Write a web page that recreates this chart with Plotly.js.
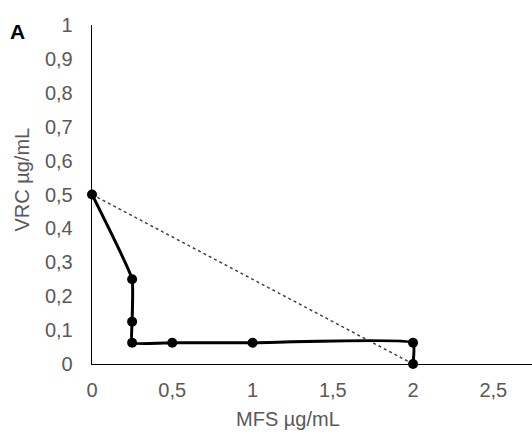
<!DOCTYPE html>
<html>
<head>
<meta charset="utf-8">
<script src="https://cdn.plot.ly/plotly-3.0.1.min.js"></script>
<style>
  html, body { margin: 0; padding: 0; background: #fff; }
  #chart { width: 532px; height: 434px; }
</style>
</head>
<body>
<div id="chart"></div>
<script>
// Isobologram: MFS vs VRC combination concentrations
const mfs = [0, 0.25, 0.25, 0.25, 0.5, 1, 2, 2];
const vrc = [0.5, 0.25, 0.125, 0.0625, 0.0625, 0.0625, 0.0625, 0];

// Line of additivity between the single-drug values
const additiveX = [0, 2];
const additiveY = [0.5, 0];

const xTicks = [0, 0.5, 1, 1.5, 2, 2.5];
const xTickText = ['0', '0,5', '1', '1,5', '2', '2,5'];
const yTicks = [0, 0.1, 0.2, 0.3, 0.4, 0.5, 0.6, 0.7, 0.8, 0.9, 1];
const yTickText = ['0', '0,1', '0,2', '0,3', '0,4', '0,5', '0,6', '0,7', '0,8', '0,9', '1'];

const font = 'Liberation Sans, Arial, sans-serif';
const grey = '#595959';

const traces = [
  {
    x: additiveX, y: additiveY,
    mode: 'lines',
    line: { color: '#444', width: 1.5, dash: 'dot' },
    hoverinfo: 'skip'
  },
  {
    x: mfs, y: vrc,
    mode: 'lines+markers',
    line: { color: '#000', width: 3, shape: 'spline', smoothing: 0.35 },
    marker: { color: '#000', size: 10 },
    cliponaxis: false
  }
];

const layout = {
  width: 532, height: 434,
  margin: { l: 92, r: 0, t: 25, b: 70 },
  paper_bgcolor: '#fff', plot_bgcolor: '#fff',
  showlegend: false,
  font: { family: font, size: 20, color: grey },
  xaxis: {
    range: [0, 2.741],
    tickvals: xTicks, ticktext: xTickText,
    showgrid: false, zeroline: false,
    showline: true, linecolor: '#000', linewidth: 1.3,
    ticks: '', ticklabelstandoff: 8,
    tickfont: { family: font, size: 20, color: grey }
  },
  yaxis: {
    range: [0, 1],
    tickvals: yTicks, ticktext: yTickText,
    showgrid: false, zeroline: false,
    showline: true, linecolor: '#000', linewidth: 1.3,
    ticks: '', ticklabelstandoff: 14,
    tickfont: { family: font, size: 20, color: grey }
  },
  annotations: [
    {
      text: 'MFS µg/mL', xref: 'paper', yref: 'paper',
      x: (288 - 92) / 440, y: -0.125, xanchor: 'center', yanchor: 'top',
      showarrow: false, font: { family: font, size: 20, color: grey }
    },
    {
      text: 'VRC µg/mL', xref: 'paper', yref: 'paper',
      x: -0.16, y: (364 - 180) / 339, textangle: -90,
      xanchor: 'center', yanchor: 'middle',
      showarrow: false, font: { family: font, size: 20, color: grey }
    },
    {
      text: '<b>A</b>', xref: 'paper', yref: 'paper',
      x: -0.19, y: (364 - 31) / 339, xanchor: 'left', yanchor: 'middle',
      showarrow: false, font: { family: font, size: 21, color: '#000' }
    }
  ]
};

Plotly.newPlot('chart', traces, layout, { displayModeBar: false, staticPlot: true });
</script>
</body>
</html>
